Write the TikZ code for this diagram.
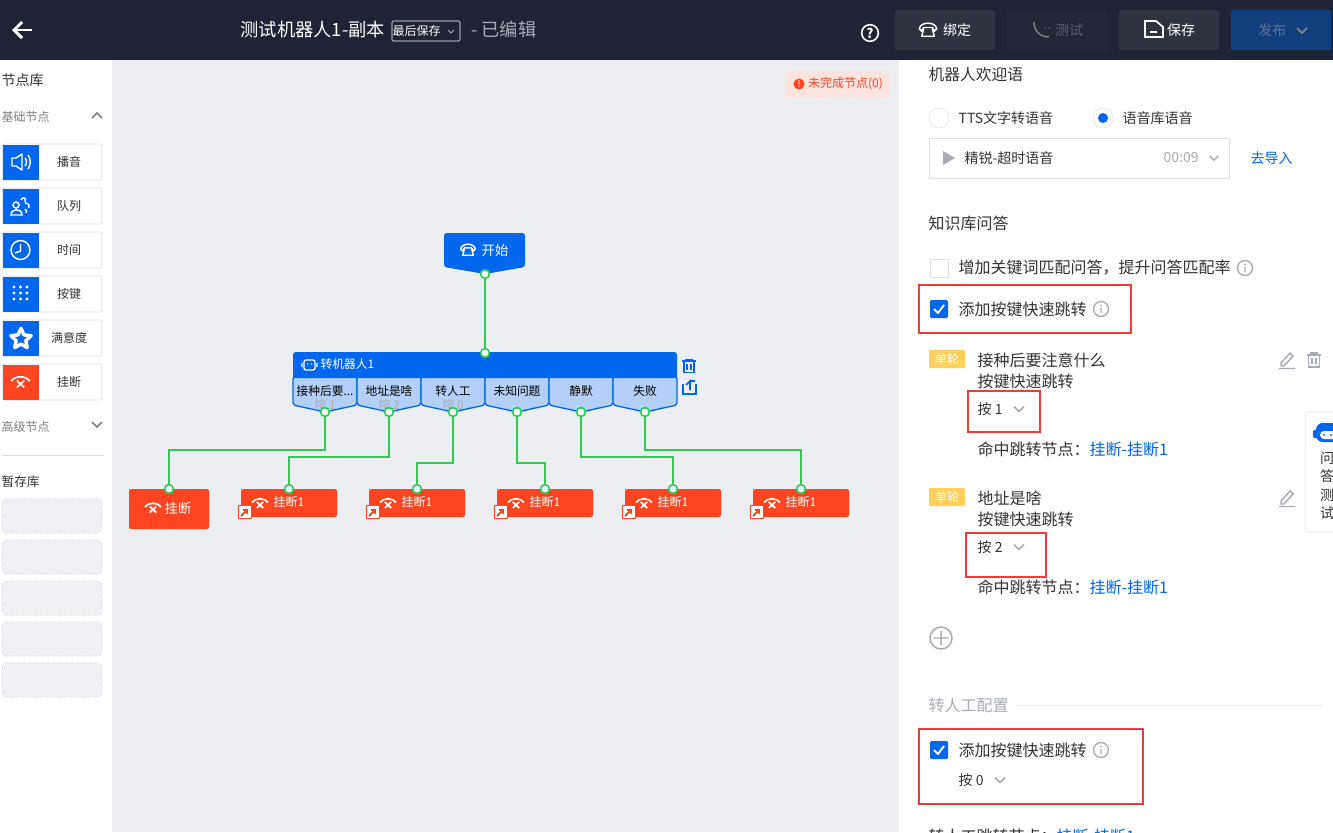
\documentclass[tikz,border=0pt]{standalone}
\usepackage{fontspec}
\setmainfont{Noto Sans CJK SC}
\usetikzlibrary{arrows.meta,shapes.geometric}
\definecolor{topbar}{HTML}{1E2433}
\definecolor{canvas}{HTML}{ECEEF2}
\definecolor{nodeblue}{HTML}{0067EE}
\definecolor{cellblue}{HTML}{B2D0F8}
\definecolor{hangred}{HTML}{FF4422}
\definecolor{linegreen}{HTML}{2ECC55}
\definecolor{markred}{HTML}{F23A3A}
\definecolor{tagyellow}{HTML}{FFD15C}
\definecolor{textgray}{HTML}{333333}
\definecolor{mutegray}{HTML}{A9ACB6}
\definecolor{boxgray}{HTML}{DCDFE8}
\newcommand{\cutdots}{...}
\tikzset{
  fs/.style={font=\fontsize{#1}{#1}\selectfont},
  lab/.style={anchor=west,inner sep=0pt,xshift=-.5pt,text=textgray,fs=12pt},
  midlab/.style={inner sep=0pt,text=textgray,fs=9pt},
  port/.style={circle,draw=linegreen,fill=white,line width=1.2pt,minimum size=6.6pt,inner sep=0pt},
  wire/.style={draw=linegreen,line width=1.4pt},
  markbox/.style={draw=markred,line width=2.2pt},
  topbtn/.style={rounded corners=1.5pt,minimum width=75pt,minimum height=30pt,inner sep=0pt},
  hangbox/.style={fill=hangred,rounded corners=1.5pt,minimum width=72pt,minimum height=21pt,inner sep=0pt},
  chevron/.pic={\draw[mutegray,line width=1.1pt] (-5,-2.5) -- (0,2.5) -- (5,-2.5);},
  phoneicon/.pic={\draw[white,line width=1.1pt,line join=round] (-7,-1) .. controls (-6,-7) and (6,-7) .. (7,-1) -- (5,1) -- (3.5,-2) -- (-3.5,-2) -- (-5,1) -- cycle (-3.5,-1) -- (-5,5) -- (5,5) -- (3.5,-1);},
  hangicon/.pic={\draw[white,line width=1.25pt] (-8,1) .. controls (-5,-4) and (5,-4) .. (8,1) (-3.2,0.5) -- (3.2,6.5) (3.2,0.5) -- (-3.2,6.5);},
  infoicon/.pic={\draw[mutegray,line width=1pt] (0,0) circle (7.5) (0,-1) -- (0,4); \fill[mutegray] (0,-3.5) circle (1);},
  trashicon/.pic={\draw[#1,line width=1.2pt] (-7,-5) -- (7,-5) (-3,-5) -- (-3,-7) -- (3,-7) -- (3,-5) (-5.5,-5) -- (-5.5,7) -- (5.5,7) -- (5.5,-5) (-2,-2) -- (-2,4) (2,-2) -- (2,4);},
  penicon/.pic={\draw[mutegray,line width=1.1pt] (-6,3) -- (3,-7) -- (6,-4) -- (-3,6) -- (-6,6) -- cycle (-8,8.5) -- (8,8.5);},
}
\begin{document}
\begin{tikzpicture}[x=0.75pt,y=-0.75pt]
\useasboundingbox (0,0) rectangle (1333,832);
\fill[white] (0,0) rectangle (1333,832);
\fill[canvas] (112,60) rectangle (899,832);
\fill[topbar] (0,0) rectangle (1333,60);

% top bar
\draw[white,line width=2.2pt,-{Straight Barb[length=6pt,width=12pt]}] (32,30) -- (12,30);
\node[lab,text=white,fs=13.7pt] (title) at (241,30) {测试机器人1-副本};
\node[draw=white,rounded corners=1pt,minimum width=51pt,minimum height=15pt,inner sep=0pt] (save) at (426,31) {};
\node[lab,text=white,fs=9pt] (savetext) at (393,31) {最后保存};
\draw[mutegray,line width=.7pt] (448,30) -- (451,33) -- (454,30);
\node[lab,text=mutegray,fs=13.7pt] (edited) at (471.5,30) {- 已编辑};
\node[circle,draw=white,line width=1.2pt,minimum size=12.5pt,inner sep=0pt,text=white,fs=10pt] (help) at (870,33) {\textbf{?}};
\foreach \x/\c/\t/\o/\d [count=\n] in
{945/2E3340/绑定/FFFFFF/12,1057/232836/测试/5A5E68/12,1169/2E3340/保存/FFFFFF/12,1281/123F7E/发布/5F7091/-9}
{\definecolor{btn}{HTML}{\c}
\definecolor{btntext}{HTML}{\o}
\node[topbtn,fill=btn] (B\n) at (\x,30) {};
\node[inner sep=0pt,text=btntext,fs=10.5pt] (BT\n) at (\x+\d,30) {\t};}
\pic[scale=1.25] at (928,30) {phoneicon};
\draw[gray,line width=1.1pt] (1034,22) .. controls (1034,31) and (1040,37) .. (1049,37) (1045,28) -- (1046,28) (1049,28) -- (1050,28);
\draw[white,line width=1.3pt] (1145,21) -- (1156,21) -- (1163,27) -- (1163,37) -- (1145,37) -- cycle (1150,32) -- (1157,32);
\draw[gray,line width=1.4pt] (1297,28) -- (1302,33) -- (1307,28);

% node library
\node[lab,fs=10.5pt] (lib) at (2,80) {节点库};
\node[lab,text=gray,fs=9pt] (base) at (2,117) {基础节点};
\draw[gray,line width=1.3pt] (92,118) -- (97,113) -- (102,118);
\foreach \y/\t [count=\n] in {162/播音,206/队列,250/时间,294/按键,338/满意度,382/挂断}
{\node[draw=boxgray,fill=white,rounded corners=1pt,minimum width=74.5pt,minimum height=27pt,inner sep=0pt] (L\n) at (52,\y) {};
\node[midlab] (LT\n) at (69,\y) {\t};}
\foreach \y/\c in {162/nodeblue,206/nodeblue,250/nodeblue,294/nodeblue,338/nodeblue,382/hangred}
\fill[\c] (3,\y-17.5) rectangle (39,\y+17.5);
% library icons
\draw[white,line width=1.1pt,line join=round] (12,158) -- (16,158) -- (22,154) -- (22,170) -- (16,166) -- (12,166) -- cycle (25,158) .. controls (27,160) and (27,164) .. (25,166) (28,155) .. controls (31,159) and (31,165) .. (28,169);
\draw[white,line width=1.1pt] (16,205) circle (3) (11,215) .. controls (11,208) and (22,208) .. (22,215) -- cycle (21,200) .. controls (23,196) and (27,198) .. (25,202) (25,203) .. controls (29,203) and (30,206) .. (29,208) (25,209) .. controls (27,210) and (27,212) .. (26,213);
\draw[white,line width=1.1pt] (20.5,250) circle (9.5) (20.5,244) -- (20.5,251) -- (15,253);
\foreach \i in {14,20.5,27} \foreach \j in {287,293,299}
\fill[white] (\i,\j) circle (1.7);
\node[star,star points=5,star point ratio=2.1,draw=white,line width=2.6pt,line join=round,minimum size=16pt,inner sep=0pt] (libstar) at (21,339) {};
\pic[scale=1.15] at (20.5,380) {hangicon};

\node[lab,text=gray,fs=9pt] (high) at (2,427) {高级节点};
\draw[gray,line width=1.3pt] (92,422) -- (97,427) -- (102,422);
\draw[boxgray] (2,455) -- (104,455);
\node[lab,fs=9.5pt] (stash) at (2,482) {暂存库};
\foreach \y in {516,557,598,639,680}
\draw[boxgray,line width=.5pt,dash pattern=on 3pt off 1.5pt,fill=canvas!80!white,rounded corners=2.5pt] (2.5,\y-17) rectangle (101.5,\y+17);

% canvas
\fill[hangred!15] (786,71) rectangle (889,97);
\fill[hangred] (799,84) circle (5.5);
\node[white,inner sep=0pt,fs=7pt] (warn) at (799,84) {!};
\node[lab,text=hangred,fs=9pt] (unfinished) at (808.5,84) {未完成节点(0)};

% start node
\fill[nodeblue,rounded corners=2pt] (444,233) -- (525,233) -- (525,267) -- (485,274) -- (444,267) -- cycle;
\pic[scale=1.05] at (468,250) {phoneicon};
\node[midlab,text=white,fs=10pt] (start) at (495,250) {开始};
\node[port] (S) at (485,274) {};

% robot node
\foreach \x/\t/\k [count=\n] in
{293/接种后要\cutdots/按 1,357/地址是啥/按 2,421/转人工/按 0,485/未知问题/{},549/静默/{},613/失败/{}}
{\draw[nodeblue,line width=1pt,fill=cellblue,rounded corners=1.5pt] (\x,377) -- (\x+64,377) -- (\x+64,405) -- (\x+32,412) -- (\x,405) -- cycle;
\node[midlab,fs=8.8pt,text=black] (C\n) at (\x+32,391.5) {\t};
\node[midlab,text=mutegray] (K\n) at (\x+32,405) {\k};}
\fill[nodeblue,rounded corners=2pt] (293,352) rectangle (677,378);
\fill[nodeblue] (293,372) rectangle (677,378);
\draw[white,line width=1pt,rounded corners=1.5pt] (304,360) rectangle (315,370) (302,363) -- (302,367) (317,363) -- (317,367) (307,364) -- (308,364) (311,364) -- (312,364);
\node[lab,text=white,fs=8.8pt] (robot) at (321,364) {转机器人1};
\node[port] (R) at (485,353) {};
\foreach \n/\x in {1/325,2/389,3/453,4/517,5/581,6/645}
\node[port] (P\n) at (\x,412) {};
\pic[scale=.95] at (689,366) {trashicon=nodeblue};
\draw[nodeblue,line width=1.2pt] (683,384) -- (683,394) -- (696,394) -- (696,384) (686,385) -- (690,381) -- (690,390) (690,381) -- (695,381);

% hang up nodes
\node[hangbox,minimum width=60pt,minimum height=30pt] (H1) at (169,509) {};
\pic at (153,506) {hangicon};
\node[midlab,text=white,fs=10pt] (HT1) at (178,508) {挂断};
\foreach \x [count=\n from 2] in {289,417,545,673,801}
{\node[hangbox] (H\n) at (\x,503) {};
\pic at (\x-29,501.5) {hangicon};
\node[midlab,text=white] (HT\n) at (\x,502) {挂断1};
\node[draw=hangred,fill=white,line width=1.1pt,minimum size=9.5pt,inner sep=0pt] (J\n) at (\x-44,512) {};
\draw[hangred,line width=1.4pt,-{Straight Barb[length=2pt,width=4pt]}] (\x-48,516) -- (\x-41,509);}
\foreach \x [count=\n] in {169,289,417,545,673,801}
\node[port] (T\n) at (\x,489) {};

\draw[wire] (S) -- (R);
\foreach \n/\y in {1/450,2/457,3/463,4/463,5/457,6/450}
\draw[wire] (P\n) -- (P\n |- 0,\y) -| (T\n);

% right panel
\node[lab,fs=11.8pt] (welcome) at (929,75) {机器人欢迎语};
\draw[boxgray,fill=white] (939,118) circle (10);
\node[lab,fs=10.5pt] (tts) at (959,118) {TTS文字转语音};
\draw[boxgray,fill=white] (1103,118) circle (10);
\fill[nodeblue] (1103,118) circle (5);
\node[lab,fs=10.5pt] (voice) at (1123,118) {语音库语音};
\draw[boxgray] (929.5,138.5) rectangle (1229,178);
\fill[mutegray] (943,151) -- (955,158) -- (943,165) -- cycle;
\node[lab,fs=10.5pt] (sound) at (965,158) {精锐-超时语音};
\node[lab,text=mutegray,fs=10.5pt] (time) at (1164,158) {00:09};
\pic[scale=.85] at (1214,158) {chevron};
\node[lab,text=nodeblue,fs=10.5pt] (import) at (1251,158) {去导入};

\node[lab] (faq) at (929,223) {知识库问答};
\draw[boxgray,fill=white] (930,259) rectangle (948,277);
\node[lab] (kw) at (959,268) {增加关键词匹配问答，提升问答匹配率};
\pic at (1245,268) {infoicon};
\foreach \y/\n in {309/1,750/2}
{\fill[nodeblue,rounded corners=1pt] (930,\y-9) rectangle (948,\y+9);
\draw[white,line width=1.4pt] (934,\y) -- (938,\y+4) -- (944,\y-4);
\node[lab] (quick\n) at (959,\y) {添加按键快速跳转};
\pic at (1101,\y) {infoicon};}

\foreach \y/\q/\k [count=\n] in {360/接种后要注意什么/按 1,498/地址是啥/按 2}
{\fill[tagyellow,rounded corners=1pt] (929,\y-10) rectangle (965,\y+8);
\node[midlab,text=white] (tag\n) at (947,\y-1) {单轮};
\node[lab] (q\n) at (978,\y) {\q};
\node[lab] (qk\n) at (978,\y+21) {按键快速跳转};
\node[lab,fs=10.5pt] (kk\n) at (978,\y+49) {\k};
\pic at (1019,\y+49) {chevron};
\node[lab] (hit\n) at (978,\y+89) {命中跳转节点：};
\node[lab,text=nodeblue] (link\n) at (1090,\y+89) {挂断-挂断1};
\pic at (1287,\y) {penicon};}
\pic at (1314,360) {trashicon=mutegray};
\draw[mutegray,line width=1.1pt] (941,638) circle (11) (934,638) -- (948,638) (941,631) -- (941,645);

% side card
\draw[boxgray,fill=white,rounded corners=3pt] (1305,412) rectangle (1345,532);
\fill[nodeblue,rounded corners=5pt] (1316,423) rectangle (1345,442);
\fill[nodeblue,rounded corners=1pt] (1313,430) rectangle (1318,438);
\fill[white,rounded corners=3pt] (1320,431) rectangle (1345,439);
\fill[nodeblue] (1324,435) circle (1.2) (1331,435) circle (1.2);
\foreach \y/\t [count=\n] in {458/问,476/答,495/测,513/试}
\node[lab,fs=10.5pt] (card\n) at (1320.5,\y) {\t};

\node[lab,text=mutegray] (transfer) at (929,705) {转人工配置};
\draw[boxgray!60] (1015,705) -- (1323,705);
\node[lab,fs=10.5pt] (k0) at (959,780) {按 0};
\pic at (1000,780) {chevron};
\node[lab] (hit0) at (929,836) {转人工跳转节点：};
\node[lab,text=nodeblue] (link0) at (1057,836) {挂断-挂断1};

% marks
\draw[markbox] (919,285) rectangle (1131,333);
\draw[markbox] (968,391) rectangle (1040,432);
\draw[markbox] (966,533) rectangle (1046,577);
\draw[markbox] (919,729) rectangle (1143,804);
\end{tikzpicture}
\end{document}
